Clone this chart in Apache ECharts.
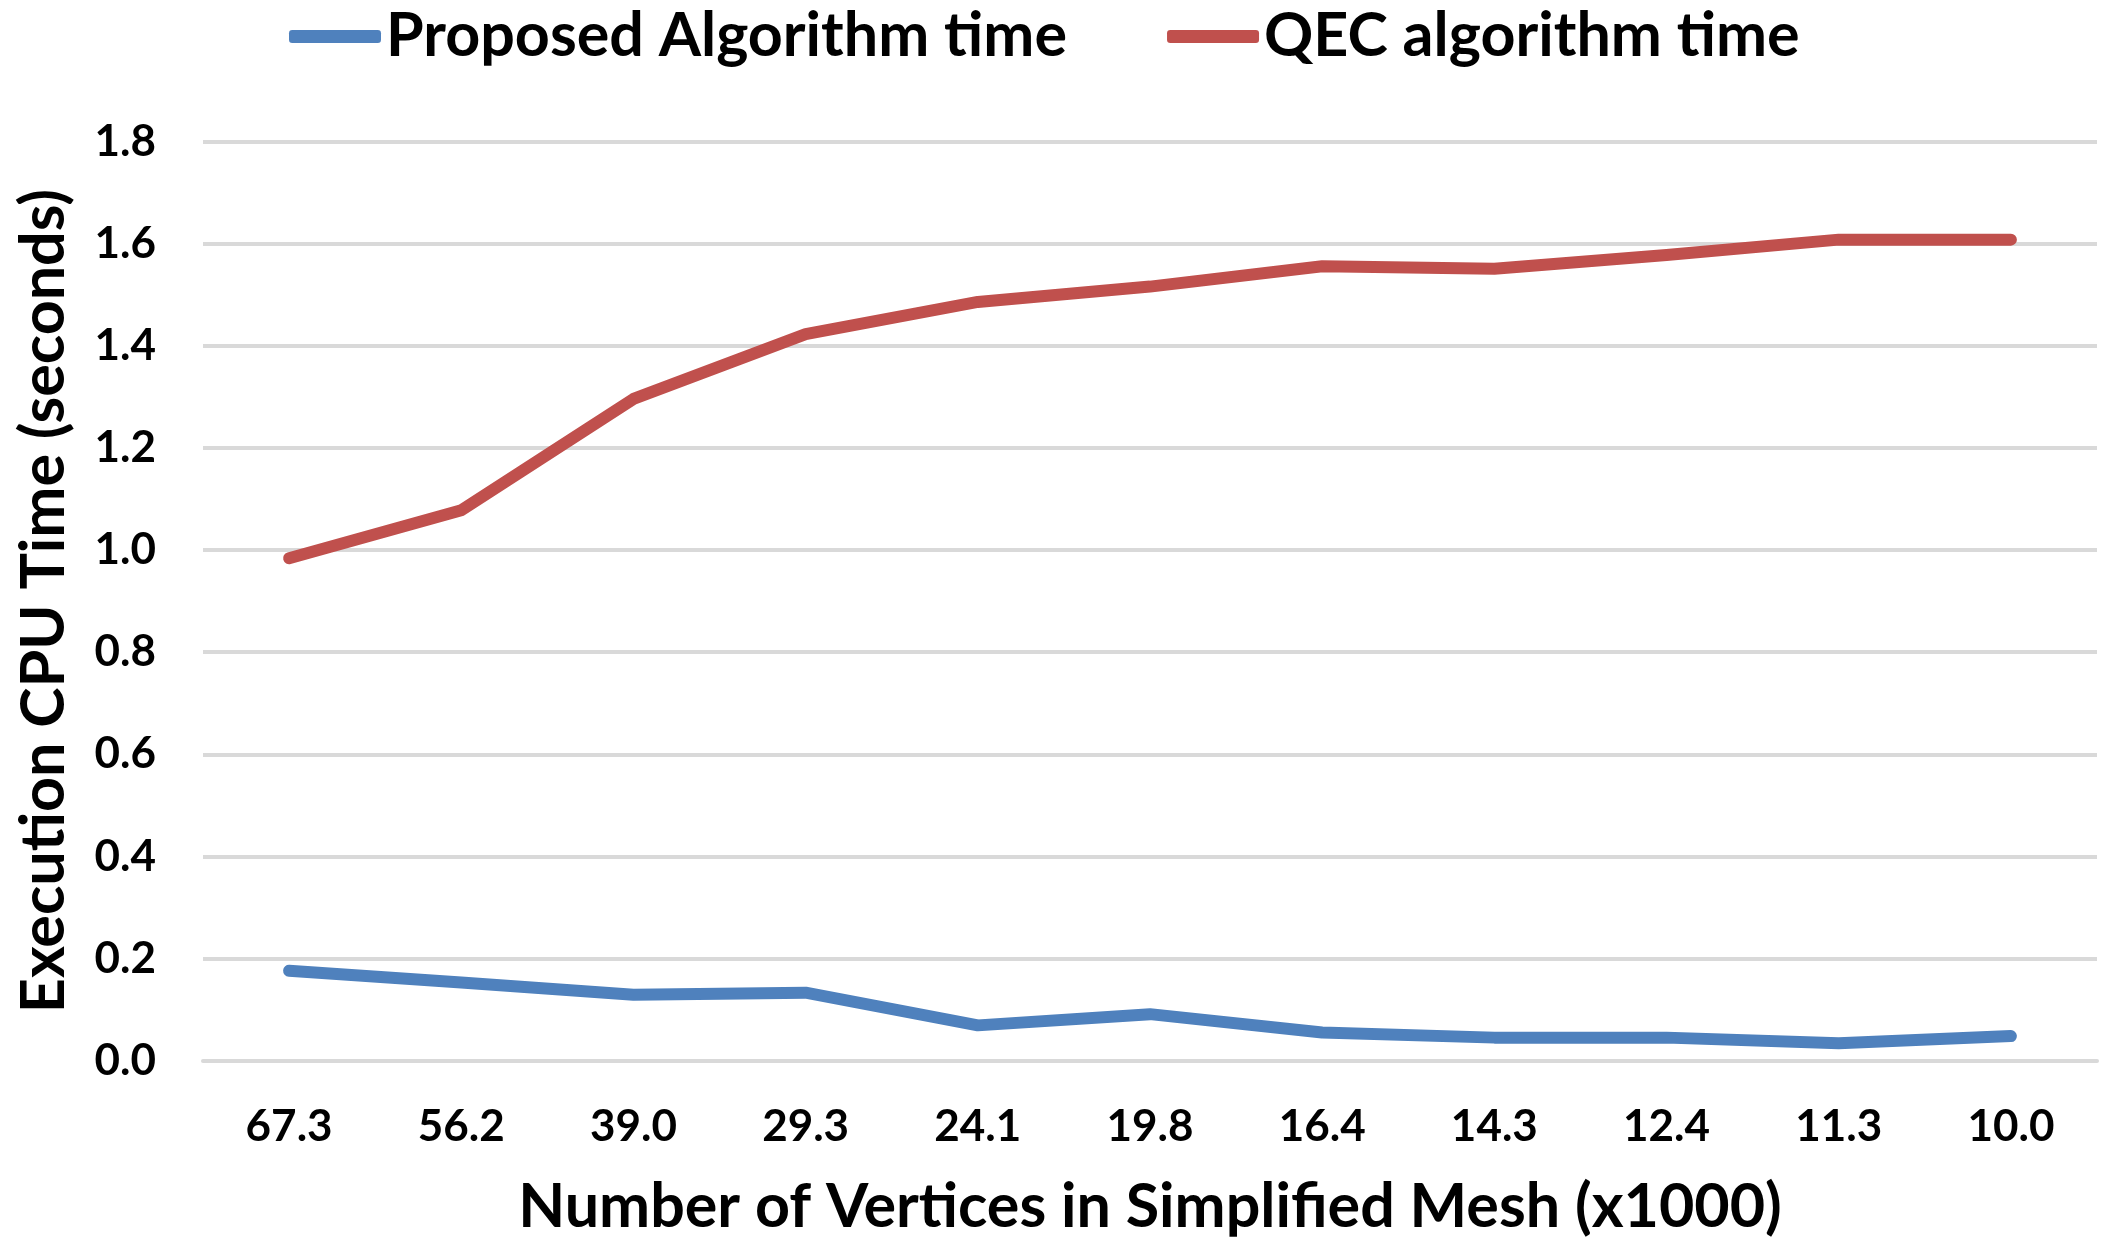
<!DOCTYPE html>
<html>
<head>
<meta charset="utf-8">
<title>Execution CPU Time</title>
<script src="https://cdn.jsdelivr.net/npm/echarts@6/dist/echarts.min.js"></script>
<style>
    html, body { margin: 0; padding: 0; background: #ffffff; }
    #chart { width: 2113px; height: 1259px; }
</style>
</head>
<body>
<div id="chart"></div>
<script>
'use strict';

// categories: vertices in the simplified mesh (x1000)
var vertices = ['67.3', '56.2', '39.0', '29.3', '24.1', '19.8', '16.4', '14.3', '12.4', '11.3', '10.0'];
// times (seconds)
var proposedTime = [0.176, 0.153, 0.129, 0.133, 0.069, 0.091, 0.055, 0.045, 0.045, 0.034, 0.048];
var qecTime = [0.984, 1.078, 1.296, 1.423, 1.486, 1.516, 1.556, 1.551, 1.578, 1.608, 1.608];
var seriesNames = ['Proposed Algorithm time', 'QEC algorithm time'];
var yTicks = { min: 0, max: 1.8, step: 0.2 };

var FONT = 'Lato';
var chart = echarts.init(document.getElementById('chart'));

var option = {
    backgroundColor: '#ffffff',
    animation: false,
    color: ['#4F81BD', '#C0504D'],
    legend: {
        data: seriesNames,
        left: 284,
        top: 1,
        itemWidth: 92,
        itemHeight: 13,
        itemGap: 100,
        icon: 'roundRect',
        textStyle: {
            fontFamily: FONT,
            fontWeight: 'bold',
            fontSize: 61,
            color: '#000000'
        }
    },
    grid: {
        left: 203,
        right: 16,
        top: 141.6,
        bottom: 198.4,
        containLabel: false
    },
    xAxis: {
        type: 'category',
        data: vertices,
        boundaryGap: true,
        name: 'Number of Vertices in Simplified Mesh (x1000)',
        nameLocation: 'middle',
        nameGap: 116,
        nameTextStyle: {
            fontFamily: FONT,
            fontWeight: 'bold',
            fontSize: 61,
            color: '#000000'
        },
        axisLine: { show: true, lineStyle: { color: '#d9d9d9', width: 4 } },
        axisTick: { show: false },
        axisLabel: {
            margin: 44,
            fontFamily: FONT,
            fontWeight: 'bold',
            fontSize: 44,
            color: '#000000'
        }
    },
    yAxis: {
        type: 'value',
        min: yTicks.min,
        max: yTicks.max,
        interval: yTicks.step,
        name: 'Execution CPU Time (seconds)',
        nameLocation: 'middle',
        nameGap: 128,
        nameTextStyle: {
            fontFamily: FONT,
            fontWeight: 'bold',
            fontSize: 61,
            color: '#000000'
        },
        axisLine: { show: false },
        axisTick: { show: false },
        axisLabel: {
            margin: 47,
            fontFamily: FONT,
            fontWeight: 'bold',
            fontSize: 44,
            color: '#000000',
            formatter: function (v) {
                return v.toFixed(1);
            }
        },
        splitLine: { show: true, lineStyle: { color: '#d9d9d9', width: 4 } }
    },
    series: [
        {
            name: seriesNames[0],
            type: 'line',
            data: proposedTime,
            symbol: 'none',
            lineStyle: { width: 12, cap: 'round', join: 'round' }
        },
        {
            name: seriesNames[1],
            type: 'line',
            data: qecTime,
            symbol: 'none',
            lineStyle: { width: 12, cap: 'round', join: 'round' }
        }
    ]
};

chart.setOption(option);
</script>
</body>
</html>
